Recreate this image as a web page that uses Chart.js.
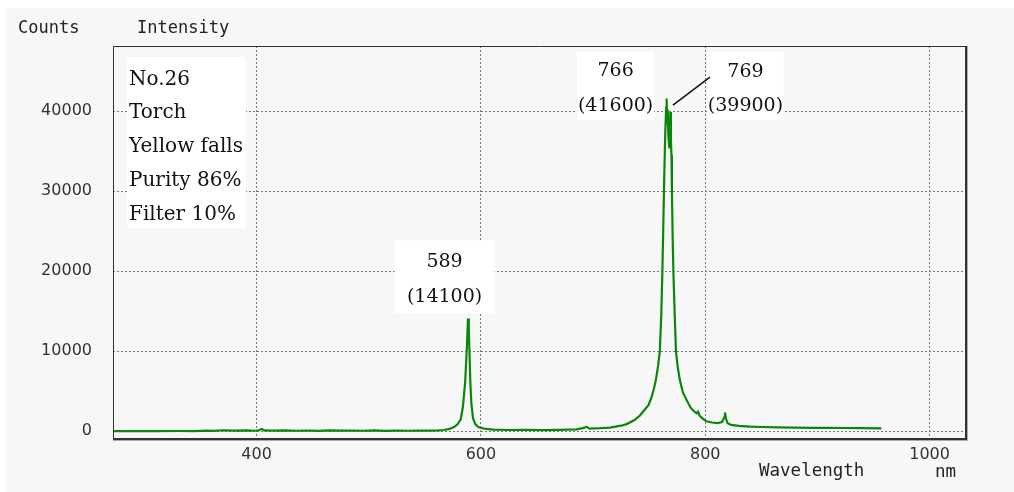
<!DOCTYPE html>
<html>
<head>
<meta charset="utf-8">
<script src="https://cdn.jsdelivr.net/npm/chart.js@4"></script>
<style>
  html, body { margin: 0; padding: 0; background: #fff; }
  #wrap { position: relative; width: 1014px; height: 492px; }
</style>
</head>
<body>
<div id="wrap"><canvas id="spectrum"></canvas></div>
<script>
// spectrum, wavelength (nm) -> counts
const wavelength = [
  272, 290, 310, 330, 345, 355, 362, 370, 380, 392, 398, 402, 404.5, 407, 415, 425, 435, 445,
  455, 465, 475, 485, 495, 505, 515, 525, 535, 545, 555, 562, 567, 572, 576, 579, 582, 584,
  586, 587.5, 588.5, 589.2, 589.8, 590.6, 591.5, 593, 595, 598, 603, 611, 625, 640, 655, 670,
  685, 692, 694, 697, 705, 715, 725, 730, 737, 742, 746, 749.5, 752, 754, 756, 758, 759.5,
  760.8, 761.8, 762.8, 763.5, 764.4, 765.2, 765.6, 766.1, 766.6, 767.1, 767.9, 768.4, 768.9,
  769.4, 769.9, 770.3, 771, 771.6, 772.7, 773.9, 775.5, 777.4, 780, 783.4, 787, 790, 792.3,
  793.5, 795, 798, 801, 806, 811, 815, 816.8, 817.6, 818.5, 820, 823, 830, 840, 850, 865,
  880, 895, 910, 925, 940, 957
];
const counts = [
  20, 30, 10, 40, 30, 90, 60, 130, 80, 120, 70, 130, 290, 110, 80, 110, 70, 100,
  60, 110, 80, 100, 70, 110, 60, 90, 70, 100, 90, 110, 160, 300, 520, 850, 1500, 3100,
  6200, 10500, 14100, 13000, 10000, 6000, 3500, 1600, 900, 500, 330, 200, 160, 170, 150, 180,
  250, 420, 580, 330, 380, 450, 700, 900, 1400, 2000, 2700, 3300, 4200, 5200, 6400, 8200, 10000,
  14500, 20000, 27000, 32000, 37500, 40500, 41600, 38500, 40200, 37000, 35500, 38000, 39900,
  36500, 34500, 30000, 24000, 20000, 15000, 10000, 8000, 6400, 4900, 3900, 2950, 2500, 2250,
  2450, 1950, 1550, 1250, 1100, 1030, 1150, 1700, 2350, 1600, 1000, 800, 680, 580, 540, 500,
  460, 440, 420, 410, 390, 375
];

// labelled peaks
const peakNm = [589, 766, 769];
const peakCounts = [14100, 41600, 39900];

const sampleInfo = ['No.26', 'Torch', 'Yellow falls', 'Purity 86%', 'Filter 10%'];

const xTicks = [400, 600, 800, 1000];
const yTicks = [0, 10000, 20000, 30000, 40000];

const MONO = '"DejaVu Sans Mono", monospace';
const SERIF = '"DejaVu Serif", serif';

// box / text placement for each peak label, relative to the peak pixel
const peakBoxes = [
  { dx: -24, top: -78, bottom: -5, w: 100, t1: -56, t2: -21 },
  { dx: -51.5, top: -46.5, bottom: 21.5, w: 77, t1: -27.5, t2: 7.5 },
  { dx: 75, top: -60, bottom: 8, w: 76, t1: -40.5, t2: -6.5, leader: [2.5, -7, 39.5, -35] }
];

const decor = {
  id: 'decor',
  beforeDraw(chart) {
    const c = chart.ctx;
    c.save();
    c.fillStyle = '#fff';
    c.fillRect(0, 0, chart.width, chart.height);
    c.fillStyle = '#f7f7f7';
    c.fillRect(6, 8, chart.width - 6, chart.height - 8);
    c.restore();
  },
  beforeDatasetsDraw(chart) {
    const c = chart.ctx;
    const a = chart.chartArea;
    const xs = chart.scales.x, ys = chart.scales.y;
    c.save();
    // sample info box
    c.fillStyle = '#fff';
    c.fillRect(a.left + 14, a.top + 11, 119, 171);
    c.fillStyle = '#111';
    c.font = '20px ' + SERIF;
    c.textAlign = 'left';
    c.textBaseline = 'alphabetic';
    sampleInfo.forEach((s, i) => c.fillText(s, a.left + 16, a.top + 38.5 + i * 33.9));

    // peak labels
    c.font = '19px ' + SERIF;
    c.textAlign = 'center';
    c.textBaseline = 'middle';
    peakNm.forEach((nm, i) => {
      const b = peakBoxes[i];
      const px = xs.getPixelForValue(nm);
      const py = ys.getPixelForValue(peakCounts[i]);
      const cx = px + b.dx;
      c.fillStyle = '#fff';
      c.fillRect(cx - b.w / 2, py + b.top, b.w, b.bottom - b.top);
      c.fillStyle = '#111';
      c.fillText(String(nm), cx, py + b.t1);
      c.fillText('(' + peakCounts[i] + ')', cx, py + b.t2);
      if (b.leader) {
        c.strokeStyle = '#111';
        c.lineWidth = 1.5;
        c.beginPath();
        c.moveTo(px + b.leader[0], py + b.leader[1]);
        c.lineTo(px + b.leader[2], py + b.leader[3]);
        c.stroke();
      }
    });
    c.restore();
  },
  afterDraw(chart) {
    const c = chart.ctx;
    const a = chart.chartArea;
    c.save();
    // plot frame, heavier on the right and bottom
    c.strokeStyle = '#333';
    c.lineWidth = 1;
    c.beginPath();
    c.moveTo(a.left + 0.5, a.bottom);
    c.lineTo(a.left + 0.5, a.top + 0.5);
    c.lineTo(a.right, a.top + 0.5);
    c.stroke();
    c.lineWidth = 2;
    c.beginPath();
    c.moveTo(a.right + 1, a.top);
    c.lineTo(a.right + 1, a.bottom + 1);
    c.lineTo(a.left, a.bottom + 1);
    c.stroke();
    c.strokeStyle = '#aaa';
    c.lineWidth = 1;
    c.beginPath();
    c.moveTo(a.right + 2.5, a.top);
    c.lineTo(a.right + 2.5, a.bottom + 2.5);
    c.lineTo(a.left, a.bottom + 2.5);
    c.stroke();

    // axis captions
    c.fillStyle = '#222';
    c.textAlign = 'left';
    c.textBaseline = 'alphabetic';
    c.font = '17px ' + MONO;
    c.fillText('Counts', 18, 33);
    c.fillText('Intensity', 137, 33);
    c.font = '17.5px ' + MONO;
    c.fillText('Wavelength', 759, 476);
    c.fillText('nm', 935, 477);
    c.restore();
  }
};

const tickFont = { family: '"DejaVu Sans", sans-serif', size: 16 };

new Chart(document.getElementById('spectrum'), {
  type: 'line',
  data: {
    datasets: [{
      data: wavelength.map((w, i) => ({ x: w, y: counts[i] })),
      borderColor: '#0a870a',
      borderWidth: 2.2,
      pointRadius: 0,
      tension: 0,
      fill: false
    }]
  },
  options: {
    animation: false,
    responsive: true,
    maintainAspectRatio: false,
    devicePixelRatio: 1,
    layout: { padding: { left: 0, top: 46, right: 49, bottom: 0 } },
    plugins: { legend: { display: false }, tooltip: { enabled: false } },
    scales: {
      x: {
        type: 'linear',
        min: 272,
        max: 1031.6,
        afterBuildTicks: s => { s.ticks = xTicks.map(v => ({ value: v })); },
        afterFit: s => { s.height = 54; },
        ticks: { font: tickFont, color: '#333', padding: 7, maxRotation: 0, autoSkip: false, callback: v => String(v) },
        grid: { color: '#777', lineWidth: 1, drawTicks: false },
        border: { display: false, dash: [2, 2] }
      },
      y: {
        type: 'linear',
        min: -837,
        max: 48162,
        afterBuildTicks: s => { s.ticks = yTicks.map(v => ({ value: v })); },
        afterFit: s => { s.width = 113; },
        ticks: { font: tickFont, color: '#333', padding: 21, callback: v => String(v) },
        grid: { color: '#777', lineWidth: 1, drawTicks: false },
        border: { display: false, dash: [2, 2] }
      }
    }
  },
  plugins: [decor]
});
</script>
</body>
</html>
